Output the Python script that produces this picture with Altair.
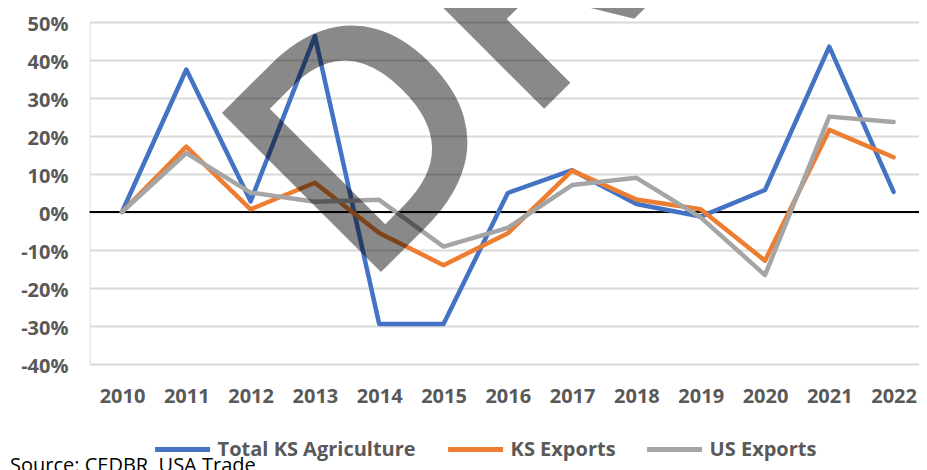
import altair as alt
import pandas as pd

years = list(range(2010, 2023))
series_names = ["Total KS Agriculture", "KS Exports", "US Exports"]
total_ks_agriculture = [0, 37.5, 2.8, 46.3, -29.5, -29.5, 5.0, 11.0, 2.1, -1.2, 5.8, 43.5, 5.3]
ks_exports = [0, 17.2, 0.7, 7.7, -5.5, -14.0, -5.6, 10.9, 3.3, 0.7, -12.8, 21.6, 14.4]
us_exports = [0, 15.5, 5.1, 2.7, 3.2, -9.1, -4.2, 7.1, 9.0, -1.4, -16.6, 25.1, 23.7]
series_colors = ["#4472C4", "#ED7D31", "#A5A5A5"]
y_ticks = [-40, -30, -20, -10, 0, 10, 20, 30, 40, 50]
watermark_text = "DRAFT"
source_text = "Source: CEDBR, USA Trade"

rows = []
for name, vals in zip(series_names, [total_ks_agriculture, ks_exports, us_exports]):
    for yr, v in zip(years, vals):
        rows.append({"year": yr, "value": v, "series": name})
df = pd.DataFrame(rows)

FONT = "Open Sans"
LABEL_COLOR = "#595959"

x_enc = alt.X(
    "year:Q",
    scale=alt.Scale(domain=[2009.496, 2022.395], nice=False, zero=False),
    axis=alt.Axis(
        values=years, format="d", title=None, grid=False, domain=False,
        ticks=False, tickSize=0, labelPadding=22, labelFont=FONT,
        labelFontSize=20, labelFontWeight="bold", labelColor=LABEL_COLOR,
        labelFlush=False, labelOverlap=False,
    ),
)
y_enc = alt.Y(
    "value:Q",
    scale=alt.Scale(domain=[-40, 50], nice=False, zero=False),
    axis=alt.Axis(
        values=y_ticks, labelExpr="datum.value + '%'", title=None,
        grid=True, gridColor="#D9D9D9", gridWidth=2, domain=False,
        ticks=False, tickSize=0, labelPadding=21.6, labelFont=FONT,
        labelFontSize=20, labelFontWeight="bold", labelColor=LABEL_COLOR,
        labelOffset=2,
    ),
)

zero = alt.Chart(pd.DataFrame({"value": [0]})).mark_rule(
    color="black", strokeWidth=2
).encode(y=y_enc)

lines = alt.Chart(df).mark_line(
    strokeWidth=4.5, strokeCap="round", strokeJoin="round"
).encode(
    x=x_enc,
    y=y_enc,
    color=alt.Color(
        "series:N",
        scale=alt.Scale(domain=series_names, range=series_colors),
        legend=alt.Legend(
            orient="none", legendX=63, legendY=397.5, direction="horizontal",
            columns=3, title=None, symbolType="stroke", symbolSize=3025,
            symbolStrokeWidth=5, labelFont=FONT, labelFontSize=20,
            labelFontWeight="bold", labelColor=LABEL_COLOR, labelOffset=5,
            columnPadding=21, labelLimit=400,
        ),
    ),
)

watermark = alt.Chart(pd.DataFrame({"t": [watermark_text]})).mark_text(
    angle=315, align="left", baseline="alphabetic", font=FONT,
    fontSize=315, fontWeight=600, color="black", opacity=0.46,
).encode(text="t:N", x=alt.value(270.5), y=alt.value(271.0))

source = alt.Chart(pd.DataFrame({"t": [source_text]})).mark_text(
    align="left", baseline="alphabetic", font=FONT, fontSize=20, color="black",
).encode(text="t:N", x=alt.value(-79.6), y=alt.value(449.5))

chart = alt.layer(zero, lines, watermark, source).properties(
    width=829.4, height=342,
    autosize=alt.AutoSizeParams(type="none"),
    padding={"left": 81.6, "top": 14, "right": 0, "bottom": 106},
).configure_view(stroke=None).configure(background="white")

chart.save("out.html", embed_options={"renderer": "svg", "actions": False})
